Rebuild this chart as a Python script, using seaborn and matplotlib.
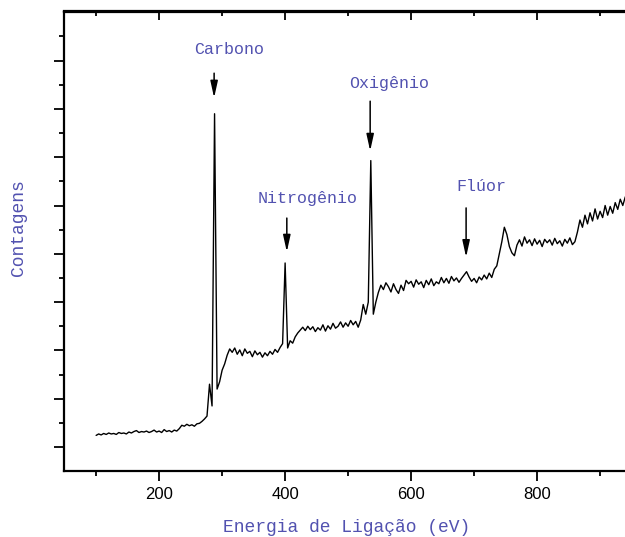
import numpy as np
import pandas as pd
import matplotlib
matplotlib.use("Agg")
import matplotlib.pyplot as plt
import seaborn as sns

# ---- data ----
energia = np.arange(100, 941, 4)  # binding energy grid (eV)
contagens = [
    2.4, 2.7, 2.5, 2.8, 2.6, 2.9, 2.7, 2.8, 2.6, 3.0,          # 100-136
    2.8, 2.9, 2.7, 3.1, 2.9, 3.2, 3.4, 3.0, 3.2, 3.1,          # 140-176
    3.3, 3.0, 3.2, 3.5, 3.1, 3.3, 3.0, 3.6, 3.2, 3.4,          # 180-216
    3.1, 3.5, 3.3, 3.8, 4.5, 4.3, 4.7, 4.4, 4.6, 4.3,          # 220-256
    4.8, 4.9, 5.3, 5.8, 6.4, 13.0, 8.5, 69.0, 12.0, 13.5,      # 260-296
    15.9, 17.2, 19.0, 20.3, 19.6, 20.5, 19.2, 20.1, 18.9, 20.3, # 300-336
    19.4, 19.8, 18.7, 19.9, 19.1, 19.6, 18.6, 19.5, 18.9, 19.8, # 340-376
    19.2, 20.2, 19.6, 20.6, 21.4, 38.1, 20.5, 22.0, 21.5, 22.8, # 380-416
    23.6, 24.2, 24.8, 24.1, 25.0, 24.3, 24.9, 23.9, 24.7, 24.2, # 420-456
    25.3, 24.0, 25.1, 24.4, 25.6, 24.6, 25.0, 25.9, 24.8, 25.7, # 460-496
    25.0, 26.2, 25.3, 26.0, 24.8, 26.3, 29.5, 27.5, 30.0, 59.3, # 500-536
    27.5, 30.0, 32.0, 33.5, 32.6, 34.0, 33.2, 32.1, 33.8, 32.6, # 540-576
    31.8, 33.5, 32.4, 34.5, 33.8, 34.3, 33.1, 34.6, 33.7, 34.2, # 580-616
    33.0, 34.5, 33.6, 34.8, 33.4, 34.2, 33.8, 35.1, 34.0, 34.9, # 620-656
    33.9, 35.3, 34.4, 35.0, 34.1, 34.9, 35.6, 36.3, 35.2, 34.3, # 660-696
    34.9, 34.0, 35.2, 34.6, 35.6, 34.8, 36.0, 35.1, 36.8, 37.5, # 700-736
    40.0, 42.5, 45.5, 44.0, 41.5, 40.2, 39.6, 41.8, 42.9, 41.6, # 740-776
    43.5, 42.2, 42.9, 41.7, 43.1, 42.0, 42.8, 41.5, 43.0, 42.3, # 780-816
    42.9, 41.8, 43.2, 42.1, 42.7, 41.6, 43.0, 42.2, 43.3, 41.9, # 820-856
    42.5, 44.5, 47.0, 45.5, 48.0, 46.2, 48.5, 46.8, 49.3, 47.2, # 860-896
    48.8, 47.5, 50.0, 48.0, 49.8, 48.4, 50.6, 49.2, 51.3, 50.0, # 900-936
    51.8,                                                        # 940
]

elementos = ["Carbono", "Nitrogênio", "Oxigênio", "Flúor"]
texto_x = [310.6, 436.5, 565.0, 711.0]
texto_y = [82.2, 51.55, 75.2, 54.0]
seta_x = [287.3, 402.7, 535.0, 687.3]
seta_inicio = [77.4, 47.4, 71.6, 49.5]
seta_fim = [72.3, 40.4, 61.3, 39.3]

x_ticks = [200, 400, 600, 800]
x_minor = [100, 300, 500, 700, 900]
y_ticks = [0, 10, 20, 30, 40, 50, 60, 70, 80]
y_minor = [5, 15, 25, 35, 45, 55, 65, 75, 85]

# ---- style ----
sns.set_style("ticks")
plt.rcParams["font.family"] = ["Liberation Sans", "DejaVu Sans"]
plt.rcParams["axes.edgecolor"] = "black"
plt.rcParams["xtick.color"] = "black"
plt.rcParams["ytick.color"] = "black"
mono = ["Liberation Mono", "DejaVu Sans Mono"]
blue = "#5252b0"

fig = plt.figure(figsize=(6.25, 5.37), dpi=100)
ax = fig.add_axes([64 / 625, 66 / 537, 567.6 / 625, 459.5 / 537])

df = pd.DataFrame({"Energia": energia, "Contagens": contagens})
sns.lineplot(data=df, x="Energia", y="Contagens", ax=ax, color="black",
             linewidth=1.0, estimator=None, sort=False)

ax.set_xlim(49, 950)
ax.set_ylim(-4.97, 90.17)

for s in ["left", "bottom", "top"]:
    ax.spines[s].set_linewidth(1.6)
    ax.spines[s].set_color("black")
ax.spines["right"].set_visible(False)

ax.set_xticks(x_ticks)
ax.set_xticks(x_minor, minor=True)
ax.set_yticks(y_ticks)
ax.set_yticks(y_minor, minor=True)
ax.set_yticklabels([])
ax.tick_params(axis="x", which="major", direction="out", length=7.2, width=1.3,
               labelsize=12, pad=4, colors="black")
ax.tick_params(axis="x", which="minor", direction="out", length=3.6, width=1.3,
               colors="black")
ax.tick_params(axis="y", which="major", direction="out", length=7.2, width=1.3,
               colors="black")
ax.tick_params(axis="y", which="minor", direction="out", length=3.6, width=1.3,
               colors="black")

sec = ax.secondary_xaxis("top")
sec.set_xticks(x_ticks)
sec.set_xticks(x_minor, minor=True)
sec.tick_params(axis="x", which="major", direction="in", length=6.5, width=1.3,
                labeltop=False, colors="black")
sec.tick_params(axis="x", which="minor", direction="in", length=3.6, width=1.3,
                colors="black")
sec.spines["top"].set_linewidth(1.6)
sec.spines["top"].set_color("black")

ax.set_xlabel("Energia de Ligação (eV)", family=mono, fontsize=13, color=blue,
              va="center")
ax.xaxis.set_label_coords(0.4986, -0.124)
ax.set_ylabel("Contagens", family=mono, fontsize=13, color=blue, va="center",
              ha="center")
ax.yaxis.set_label_coords(-0.081, 0.529)

for nome, tx, ty, sx, s0, s1 in zip(elementos, texto_x, texto_y, seta_x,
                                    seta_inicio, seta_fim):
    ax.text(tx, ty, nome, family=mono, fontsize=12, color=blue,
            ha="center", va="center")
    ax.annotate("", xy=(sx, s1), xytext=(sx, s0),
                arrowprops=dict(arrowstyle="-|>,head_length=1.0,head_width=0.22",
                                mutation_scale=10, lw=1.1, color="black",
                                shrinkA=0, shrinkB=0))

fig.savefig("out.png", dpi=100)
